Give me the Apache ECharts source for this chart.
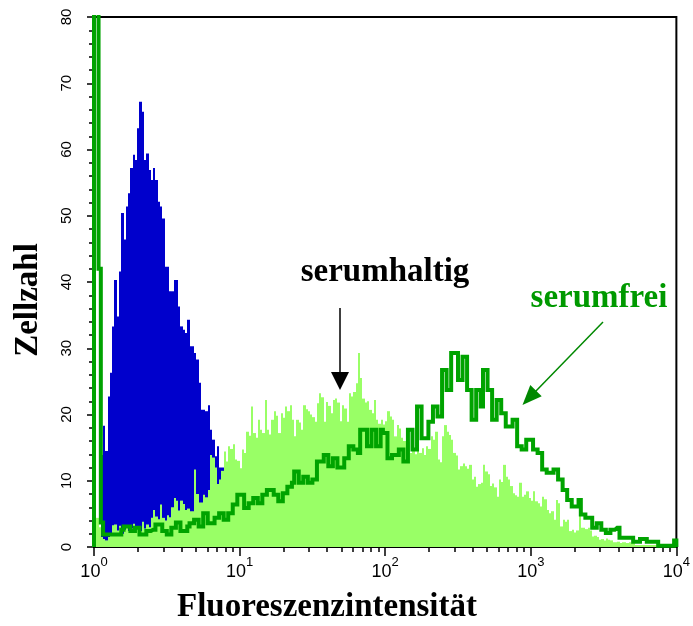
<!DOCTYPE html>
<html><head><meta charset="utf-8">
<script src="https://cdn.jsdelivr.net/npm/echarts@6/dist/echarts.min.js"></script>
<style>html,body{margin:0;padding:0;background:#fff}#c{width:693px;height:626px}</style>
</head><body><div id="c"></div>
<script>
// ---- data ----
const CHANNELS = 256;          // histogram channels over the log axis
const DECADES = 4;             // 10^0 .. 10^4
const xMajorTicks = [1, 10, 100, 1000, 10000];
const xMinorTicks = [2,3,4,5,6,7,8,9,20,30,40,50,60,70,80,90,200,300,400,500,600,700,800,900,2000,3000,4000,5000,6000,7000,8000,9000];
const yMin = 0, yMax = 80, yInterval = 10;

// control (blue), channels starting at blueFirstChannel
const blueFirstChannel = 3;
const blueCounts = [13.9,18.3,14.5,22.7,26.3,33.3,40.3,34.8,41.6,50.4,46.4,51.4,53.4,57.2,59.2,58.4,63.2,67.2,65.7,58.4,
59.4,56.9,55.4,57.2,55.4,52.1,51.4,49.6,42.3,42.3,38.6,38.6,40.3,40.3,36.3,33.3,32.8,32.3,34.3,30.3,
30.3,29.3,28.3,24.8,20.7,20.7,20.5,21.4,17.7,16.2,13.7,15.2,12,12];

// serumhaltig (light green, filled), 256 channels
const serumhaltigCounts = [
4.1,4.4,3.0,1.5,1.2,1.0,1.5,2.0,3.3,3.4,2.5,3.2,2.0,2.6,3.0,2.4,2.8,3.5,2.6,3.0,
2.4,3.8,2.8,3.4,3.0,4.4,5.6,4.6,4.2,6.4,4.4,4.0,4.8,4.5,6.0,7.4,7.0,5.5,7.0,6.5,
5.6,5.8,5.4,5.4,11.7,8.0,6.7,6.7,7.9,7.5,8.6,13.9,13.5,12.0,9.5,10.2,11.5,14.4,12.9,15.2,
14.8,15.5,13.2,13.0,11.9,14.7,14.2,17.4,16.8,21.2,17.2,16.5,19.2,17.7,17.2,22.2,17.7,17.0,19.2,20.5,
19.8,17.2,20.2,19.5,21.2,20.5,21.4,19.2,16.7,19.2,18.8,17.7,21.4,20.8,20.5,20.0,19.6,18.9,21.7,23.2,
22.6,18.9,21.9,21.3,20.2,22.2,22.4,21.8,19.0,21.4,20.9,18.9,23.2,22.7,23.4,24.7,29.3,25.5,22.4,21.8,
22.0,20.7,20.2,22.2,19.2,18.6,19.2,18.5,19.0,20.5,19.7,19.2,16.7,18.4,17.9,16.5,16.0,16.2,15.8,14.2,
14.8,14.0,14.7,14.2,14.9,13.9,15.2,14.8,16.7,16.2,17.4,13.2,12.8,16.7,18.4,17.4,16.9,16.2,14.2,13.8,
11.7,12.2,12.6,12.2,11.8,12.4,10.2,10.6,9.1,9.5,9.7,12.4,11.4,11.0,9.2,9.6,9.0,7.6,10.2,9.8,
12.4,10.6,10.2,9.2,8.1,7.8,7.6,9.7,7.6,7.9,8.4,7.4,7.0,8.4,6.9,6.6,6.1,7.6,7.2,5.6,
5.1,5.4,4.1,7.1,6.6,3.1,4.1,3.8,4.1,2.4,2.6,2.2,2.5,5.0,2.9,2.9,2.7,2.9,2.5,1.6,
1.7,1.5,1.1,1.2,1.0,1.3,1.1,1.0,0.7,0.7,0.8,0.6,0.7,0.7,0.6,0.7,0.6,0.7,0.3,0.3,
0.3,0.3,0.3,0.3,0.3,0.3,0.3,0.3,0,0,0,0,0,0,0.6,0.6];

// serumfrei (dark green outline), 256 channels
const serumfreiCounts = [
100,100,42,3.7,1.9,1.9,1.9,1.9,1.9,1.9,1.9,1.9,2.6,3.1,3.1,3.1,2.4,2.4,2.9,2.9,
1.9,1.9,1.9,2.4,2.4,2.6,2.6,3.4,3.4,3.4,2.4,2.4,1.9,1.9,2.9,2.9,3.7,3.7,2.4,2.4,
2.4,3.1,3.6,3.6,4.1,4.1,3.1,3.1,5.1,5.1,3.6,3.6,3.6,4.4,4.4,5.1,5.1,4.1,4.1,5.1,
5.1,6.4,6.4,7.9,7.9,7.9,5.9,5.9,6.6,6.6,7.4,7.4,6.6,6.6,7.9,7.9,8.6,8.6,8.6,7.9,
7.9,6.9,6.9,8.1,8.1,9.1,9.1,9.7,11.4,11.4,9.7,9.7,10.6,10.6,9.7,9.7,10.2,10.2,12.9,12.9,
12.9,13.9,13.9,12.2,12.2,13.4,13.4,12.0,12.0,12.0,13.4,13.4,15.2,15.2,14.7,14.7,14.2,17.7,17.7,17.7,
15.2,15.2,17.7,17.7,15.2,15.2,17.7,17.2,17.2,13.4,13.4,13.9,13.9,13.9,14.7,14.7,12.9,12.9,17.7,17.7,
14.7,14.7,21.2,21.2,16.4,16.4,16.4,18.9,18.9,21.2,21.2,19.7,19.7,26.7,26.7,23.7,23.7,29.3,29.3,29.3,
25.2,25.2,28.7,28.7,23.7,23.7,19.2,19.2,23.7,23.7,21.2,26.7,26.7,23.7,23.7,19.2,19.2,22.2,22.2,20.2,
20.2,18.2,18.2,18.2,19.2,19.2,15.2,15.2,14.7,14.7,16.2,16.2,16.2,14.7,14.7,14.2,14.2,11.7,11.7,11.2,
11.2,11.2,11.7,11.7,10.2,10.2,8.6,8.6,7.1,7.1,6.1,6.1,6.1,7.1,4.9,4.9,4.4,4.4,4.4,2.9,
2.9,3.6,3.6,2.6,2.6,2.1,2.1,2.6,2.6,2.9,2.9,1.4,1.4,1.4,1.4,1.4,1.4,0.8,0.8,0.8,
1.2,1.2,1.2,0.8,0.8,0.8,0.8,0.8,0.2,0.2,0.2,0.2,0.2,0.2,0.2,1.0];

const labelSerumhaltig = 'serumhaltig';
const labelSerumfrei = 'serumfrei';
const xTitle = 'Fluoreszenzintensität';
const yTitle = 'Zellzahl';

// ---- build ----
function edge(i) { return Math.pow(10, DECADES * i / CHANNELS); }
function binData(counts, first) {
  return counts.map((v, k) => [edge(first + k), edge(first + k + 1), v]);
}
function stepData(counts, first) {
  const d = counts.map((v, k) => [edge(first + k), v]);
  d.push([edge(first + counts.length), counts[counts.length - 1]]);
  return d;
}
const freiData = [[edge(0), 0]].concat(stepData(serumfreiCounts, 0));
freiData.push([edge(CHANNELS), 0]);

function barRenderer(color) {
  return function (params, api) {
    const p0 = api.coord([api.value(0), api.value(2)]);
    const p1 = api.coord([api.value(1), 0]);
    const x0 = Math.round(p0[0]), x1 = Math.round(p1[0]);
    return {
      type: 'rect',
      shape: {x: x0, y: p0[1], width: Math.max(x1 - x0, 1), height: p1[1] - p0[1]},
      style: {fill: color}
    };
  };
}

const SANS = "'Liberation Sans Narrow','Liberation Sans',Arial,sans-serif";
const SERIF = "'Liberation Serif','Times New Roman',serif";
const chart = echarts.init(document.getElementById('c'), null, {renderer: 'canvas'});
const axisLine = {show: true, lineStyle: {color: '#000', width: 2}};
const txt = (text, x, y, size, fill, rot) => ({
  type: 'text', x: x, y: y, rotation: rot || 0, z: 20,
  style: {text: text, font: 'bold ' + size + 'px ' + SERIF, fill: fill, align: 'center', verticalAlign: 'middle', textAlign: 'center', textVerticalAlign: 'middle'}
});
chart.setOption({
  animation: false,
  backgroundColor: '#fff',
  grid: {left: 94, right: 13, top: 17, bottom: 79, show: true, borderColor: '#000', borderWidth: 2, backgroundColor: 'transparent'},
  xAxis: [{
    type: 'log', logBase: 10, min: xMajorTicks[0], max: xMajorTicks[xMajorTicks.length - 1],
    axisLine: axisLine,
    axisTick: {show: true, length: 9, inside: false, lineStyle: {color: '#000', width: 1.5}, customValues: xMajorTicks},
    splitLine: {show: false}, minorTick: {show: false},
    axisLabel: {
      show: true, margin: 9, customValues: xMajorTicks,
      formatter: v => '{b|10}{s|' + Math.round(Math.log10(v)) + '}',
      rich: {
        b: {fontFamily: SANS, fontSize: 18, color: '#000', lineHeight: 25, verticalAlign: 'bottom'},
        s: {fontFamily: SANS, fontSize: 13, color: '#000', lineHeight: 13, verticalAlign: 'top'}
      }
    }
  }, {
    type: 'log', logBase: 10, min: xMajorTicks[0], max: xMajorTicks[xMajorTicks.length - 1], position: 'bottom',
    axisLine: {show: false},
    axisTick: {show: true, length: 5, lineStyle: {color: '#000', width: 1.5}, customValues: xMinorTicks},
    axisLabel: {show: false}, splitLine: {show: false}
  }],
  yAxis: {
    type: 'value', min: yMin, max: yMax, interval: yInterval,
    axisLine: axisLine,
    axisTick: {show: true, length: 7, lineStyle: {color: '#000', width: 1.5}},
    minorTick: {show: true, splitNumber: 5, length: 5, lineStyle: {color: '#000', width: 1.5}},
    splitLine: {show: false}, minorSplitLine: {show: false},
    axisLabel: {rotate: 90, margin: 20, fontFamily: SANS, fontSize: 15, color: '#000'}
  },
  series: [{
    name: 'Kontrolle', type: 'custom', xAxisIndex: 0, clip: true,
    renderItem: barRenderer('#0000cc'),
    encode: {x: [0, 1], y: 2},
    data: binData(blueCounts, blueFirstChannel),
    z: 2
  }, {
    name: labelSerumhaltig, type: 'custom', xAxisIndex: 0, clip: true,
    renderItem: barRenderer('#99ff66'),
    encode: {x: [0, 1], y: 2},
    data: binData(serumhaltigCounts, 0),
    z: 3
  }, {
    name: labelSerumfrei, type: 'line', step: 'end', xAxisIndex: 0,
    data: freiData,
    showSymbol: false, symbol: 'none',
    lineStyle: {width: 4, color: '#00a300', join: 'miter'},
    z: 4
  }],
  graphic: [
    txt(yTitle, 28, 300, 33, '#000', Math.PI / 2),
    txt(xTitle, 327, 607, 33, '#000'),
    txt(labelSerumhaltig, 385, 272, 33, '#000'),
    txt(labelSerumfrei, 599, 298, 33, '#009900'),
    {type: 'line', shape: {x1: 340, y1: 308, x2: 340, y2: 376}, style: {stroke: '#000', lineWidth: 1.5}, z: 10},
    {type: 'polygon', shape: {points: [[331, 372], [349, 372], [340, 390]]}, style: {fill: '#000'}, z: 10},
    {type: 'line', shape: {x1: 603, y1: 322, x2: 535, y2: 392}, style: {stroke: '#008800', lineWidth: 1.5}, z: 10},
    {type: 'polygon', shape: {points: [[541.7, 396.3], [530.3, 385.1], [522.5, 405]]}, style: {fill: '#008800'}, z: 10}
  ]
});
</script></body></html>
